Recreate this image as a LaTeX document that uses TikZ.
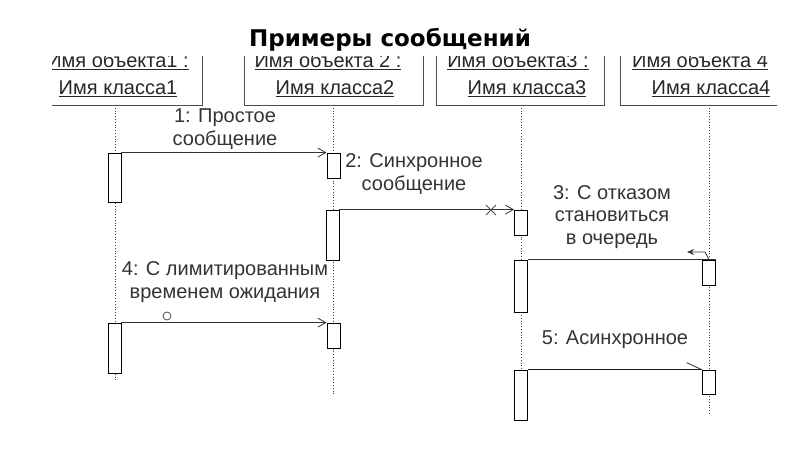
\documentclass[tikz,border=0pt]{standalone}
\usepackage{fontspec}
\setmainfont{Liberation Sans}
\newfontfamily\titlefont{DejaVu Sans}
\usetikzlibrary{arrows.meta, positioning}

\begin{document}
\begin{tikzpicture}[
  x=1pt, y=-1pt,
  objtext/.style={inner sep=0pt, font=\fontsize{20}{24}\selectfont, text=black!85},
  lifeline/.style={dotted, thick, black!75},
  act/.style={rectangle, draw, thick, fill=white, minimum width=13pt, inner sep=0pt},
  msg/.style={-{Straight Barb[length=8pt, width=9pt]}, thick, black!80},
  lbl/.style={align=center, inner sep=0pt, font=\fontsize{20}{22.5}\selectfont, text=black!80},
]
\useasboundingbox (0,0) rectangle (800,449);

% ---- title ----
\node[font=\titlefont\bfseries\fontsize{23}{26}\selectfont, inner sep=0pt] (title) at (390,40) {Примеры сообщений};

% ---- objects (top cut off) ----
\begin{scope}
\clip (52,57) rectangle (777,449);
\draw[thick, black!70] (40,40) -| (202,105) -| (40,40);
\draw[thick, black!70] (244,40) |- (423,105) -- (423,40);
\draw[thick, black!70] (436,40) |- (604,105) -- (604,40);
\draw[thick, black!70] (620,40) |- (790,105) -- (790,40);
\node[objtext, anchor=base] (obj1) at (118,68) {\underline{Имя объекта1 :}};
\node[objtext, anchor=base] (obj2) at (328,68) {\underline{Имя объекта 2 :}};
\node[objtext, anchor=base] (obj3) at (518,68) {\underline{Имя объекта3 :}};
\node[objtext, anchor=base] (obj4) at (700,68) {\underline{Имя объекта 4}};
\end{scope}
\node[objtext, anchor=base] (cls1) at (118,95) {\underline{Имя класса1}};
\node[objtext, anchor=base] (cls2) at (335,95) {\underline{Имя класса2}};
\node[objtext, anchor=base] (cls3) at (527,95) {\underline{Имя класса3}};
\node[objtext, anchor=base] (cls4) at (711,95) {\underline{Имя класса4}};

% ---- lifelines ----
\coordinate (top1) at (115,105);   \coordinate (end1) at (115,380);
\coordinate (top2) at (333.5,105); \coordinate (end2) at (333.5,395);
\coordinate (top3) at (521,105);   \coordinate (end3) at (521,420);
\coordinate (top4) at (709,105);   \coordinate (end4) at (709,415);
\draw[lifeline] (top1) -- (end1);
\draw[lifeline] (top2) -- (end2);
\draw[lifeline] (top3) -- (end3);
\draw[lifeline] (top4) -- (end4);

% ---- activations ----
\node[act, minimum height=49pt] (a1) at (114.5,177.5) {};
\node[act, minimum height=25pt] (a2) at (333.5,165.5) {};
\node[act, minimum height=50pt] (b2) at (332.5,235) {};
\node[act, minimum height=25pt] (b3) at (521,222.5) {};
\node[act, minimum height=52pt] (c3) at (521,286) {};
\node[act, minimum height=25pt] (c4) at (709,272.5) {};
\node[act, minimum height=50pt] (d1) at (114.5,348) {};
\node[act, minimum height=25pt] (d2) at (333.5,335.5) {};
\node[act, minimum height=50pt] (e3) at (521,395) {};
\node[act, minimum height=24pt] (e4) at (708.5,382) {};

% ---- messages ----
\draw[msg] (a1.north east) -- (a2.north west);
\node[lbl] (m1) at (225,129) {1: Простое\\сообщение};

\draw[msg] (b2.north east) -- (b3.north west);
\draw[thick, black!70] (486,205) -- (496,215) (486,215) -- (496,205);
\node[lbl] (m2) at (414,174) {2: Синхронное\\сообщение};

\draw[thick, black!80] (c3.north east) -- (c4.north east);
\coordinate (hook) at (705,252);
\draw[-{Stealth[length=7pt, width=6pt]}, thick, black!80] (c4.north) -- (hook) -- ++(-18,0);
\node[lbl] (m3) at (612,217) {3: С отказом\\становиться\\в очередь};

\draw[msg] (d1.north east) -- (d2.north west);
\node[circle, draw, thick, black!70, minimum size=8pt, inner sep=0pt] (clock) at (167,316) {};
\node[lbl] (m4) at (225,282) {4: С лимитированным\\временем ожидания};

\draw[thick, black!90] (e3.north east) -- (e4.north west);
\draw[thick, black!80] (e4.north west) -- ++(-15,-7);
\node[lbl] (m5) at (615,340) {5: Асинхронное};

\end{tikzpicture}
\end{document}
